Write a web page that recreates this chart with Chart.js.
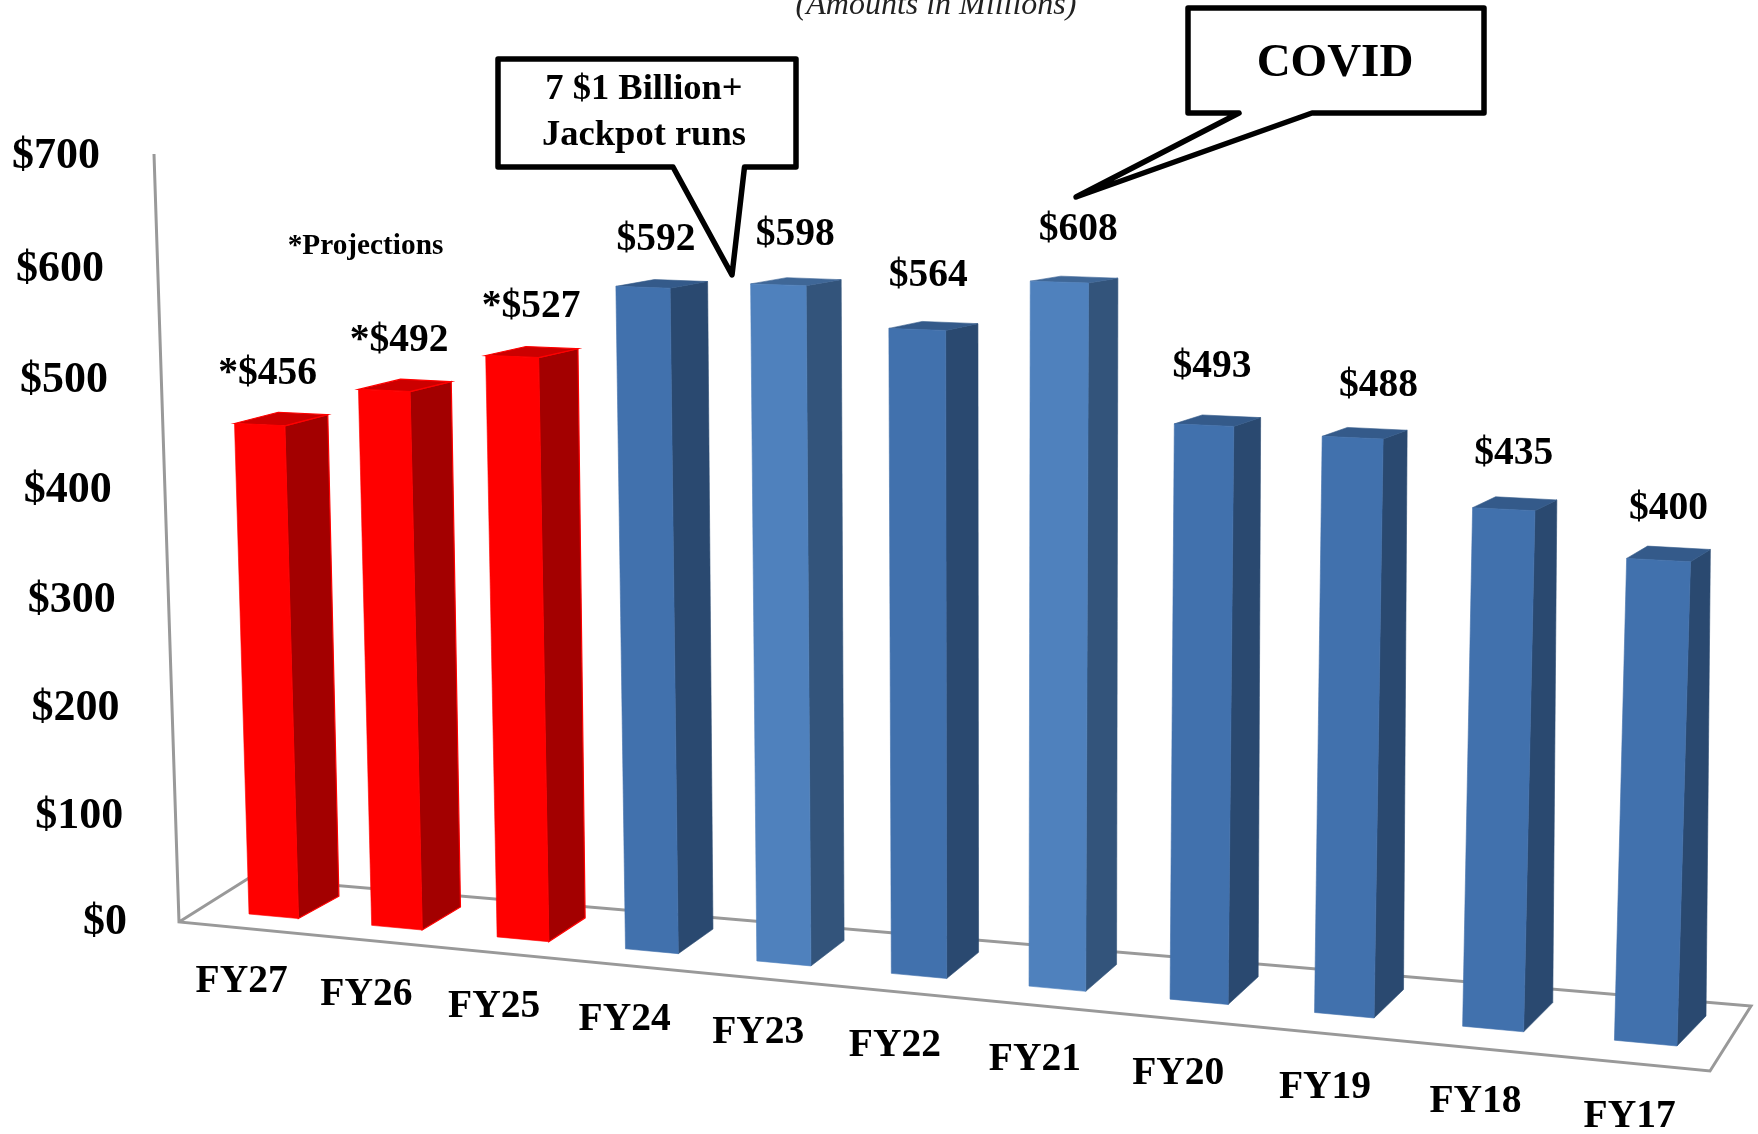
<!DOCTYPE html>
<html>
<head>
<meta charset="utf-8">
<title>Chart</title>
<script src="https://cdn.jsdelivr.net/npm/chart.js@4"></script>
<style>
    html, body { margin: 0; padding: 0; background: #fff; overflow: hidden; }
    canvas { display: block; }
</style>
</head>
<body>
<canvas id="salesChart" width="1758" height="1134"></canvas>
<script>
const categories = ['FY27', 'FY26', 'FY25', 'FY24', 'FY23', 'FY22', 'FY21', 'FY20', 'FY19', 'FY18', 'FY17'];
const values = [456, 492, 527, 592, 598, 564, 608, 493, 488, 435, 400];
const valueLabels = ['*$456', '*$492', '*$527', '$592', '$598', '$564', '$608', '$493', '$488', '$435', '$400'];
const barColors = ['#FF0000', '#FF0000', '#FF0000', '#4171AD', '#4F81BD', '#4171AD', '#4F81BD', '#4171AD', '#4171AD', '#4171AD', '#4171AD'];
const tickValues = [0, 100, 200, 300, 400, 500, 600, 700];
const tickLabels = ['$0', '$100', '$200', '$300', '$400', '$500', '$600', '$700'];

// offset of each value label from the top of its bar
const labelNudgeX = [8, 15, 19, 13, 17, 11, 19, 8, 26, 10, 10];
const labelNudgeY = [-51, -50, -50, -47, -50, -54, -52, -58, -52, -55, -51];

const FONT = '"Liberation Serif", serif';

// where the corners of the flat plot end up in the picture
// order: bottom left, bottom right, top right, top left
const frontQuad = [[249, 914], [1677, 1046], [1701, 186], [226.5, 153]];
const axisQuad = [[127, 923], [1677, 1046], [1701, 186], [100, 157]];

// unit square to quad
function makeMap(q) {
    const [p0, p1, p2, p3] = q;
    const dx1 = p1[0] - p2[0], dx2 = p3[0] - p2[0], sx = p0[0] - p1[0] + p2[0] - p3[0];
    const dy1 = p1[1] - p2[1], dy2 = p3[1] - p2[1], sy = p0[1] - p1[1] + p2[1] - p3[1];
    const den = dx1 * dy2 - dx2 * dy1;
    const g = (sx * dy2 - dx2 * sy) / den;
    const h = (dx1 * sy - sx * dy1) / den;
    return function(u, v) {
        const w = g * u + h * v + 1;
        return [
            ((p1[0] - p0[0] + g * p1[0]) * u + (p3[0] - p0[0] + h * p3[0]) * v + p0[0]) / w,
            ((p1[1] - p0[1] + g * p1[1]) * u + (p3[1] - p0[1] + h * p3[1]) * v + p0[1]) / w
        ];
    };
}

// how far the back of a bar sits from its front, u along the floor, v up
function depthAt(u, v) {
    const dxBottom = 29 + 12.5 * (1 - u) * (1 - u);
    const dxTop = 45 - 16 * u - 16 * u * u;
    const dyBottom = -(22 + 8 * u);
    const dyTop = -5.5 + 6.5 * u;
    return [dxBottom + (dxTop - dxBottom) * v, dyBottom + (dyTop - dyBottom) * v];
}

function shade(hex, f) {
    const n = parseInt(hex.slice(1), 16);
    const r = Math.round((n >> 16 & 255) * f);
    const g = Math.round((n >> 8 & 255) * f);
    const b = Math.round((n & 255) * f);
    return 'rgb(' + r + ',' + g + ',' + b + ')';
}

function poly(ctx, pts, fill, stroke, lw) {
    ctx.beginPath();
    pts.forEach((p, i) => i ? ctx.lineTo(p[0], p[1]) : ctx.moveTo(p[0], p[1]));
    ctx.closePath();
    ctx.fillStyle = fill;
    ctx.fill();
    ctx.strokeStyle = stroke || fill;
    ctx.lineWidth = lw || 0.6;
    ctx.stroke();
}

function text(ctx, str, x, y, font, align, color) {
    ctx.font = font;
    ctx.textAlign = align || 'center';
    ctx.textBaseline = 'middle';
    ctx.fillStyle = color || '#000';
    ctx.fillText(str, x, y);
}

function callout(ctx, x0, y0, x1, y1, tail) {
    ctx.beginPath();
    ctx.moveTo(x0, y0);
    ctx.lineTo(x1, y0);
    ctx.lineTo(x1, y1);
    // tail runs right to left along the bottom edge
    ctx.lineTo(tail[0][0], y1);
    ctx.lineTo(tail[1][0], tail[1][1]);
    ctx.lineTo(tail[2][0], y1);
    ctx.lineTo(x0, y1);
    ctx.closePath();
    ctx.fillStyle = '#fff';
    ctx.fill();
    ctx.strokeStyle = '#000';
    ctx.lineWidth = 5.5;
    ctx.lineJoin = 'round';
    ctx.stroke();
    ctx.lineJoin = 'miter';
}

const perspectivePlugin = {
    id: 'perspective',
    beforeDatasetsDraw(chart) {
        const ctx = chart.ctx;
        const xs = chart.scales.x;
        const ys = chart.scales.y;
        const bars = chart.getDatasetMeta(0).data;
        const halfW = bars[0].width / 2;

        // flat plot rectangle used as source of the projection
        const left = bars[0].x - halfW;
        const right = bars[bars.length - 1].x + halfW;
        const bottom = ys.getPixelForValue(0);
        const top = ys.getPixelForValue(700);
        const toUnit = (px, py) => [(px - left) / (right - left), (bottom - py) / (bottom - top)];
        const front = makeMap(frontQuad);
        const axis = makeMap(axisQuad);
        const F = (px, py) => front(...toUnit(px, py));
        const B = (px, py) => {
            const [u, v] = toUnit(px, py);
            const f = front(u, v);
            const d = depthAt(u, v);
            return [f[0] + d[0], f[1] + d[1]];
        };

        // floor and axis frame
        ctx.save();
        ctx.strokeStyle = '#999999';
        ctx.lineWidth = 3;
        ctx.beginPath();
        ctx.moveTo(154, 154);
        ctx.lineTo(179, 922);
        ctx.lineTo(1710, 1071);
        ctx.lineTo(1751, 1006);
        ctx.lineTo(249, 878);
        ctx.lineTo(179, 922);
        ctx.stroke();
        ctx.restore();

        bars.forEach((bar, i) => {
            const x0 = bar.x - halfW, x1 = bar.x + halfW;
            const color = bar.options.backgroundColor;
            const isRed = color === '#FF0000';
            const edge = isRed ? '#FF0000' : null;
            const sideFactor = isRed ? 0.64 : 0.65;
            // side
            poly(ctx, [F(x1, bar.base), B(x1, bar.base), B(x1, bar.y), F(x1, bar.y)], shade(color, sideFactor), edge, isRed ? 1.2 : 0.6);
            // top
            poly(ctx, [F(x0, bar.y), F(x1, bar.y), B(x1, bar.y), B(x0, bar.y)], shade(color, 0.8), edge, isRed ? 1.2 : 0.6);
            // front
            poly(ctx, [F(x0, bar.base), F(x1, bar.base), F(x1, bar.y), F(x0, bar.y)], color);

            // value label
            const topMid = F(bar.x, bar.y);
            text(ctx, valueLabels[i], topMid[0] + labelNudgeX[i], topMid[1] + labelNudgeY[i], 'bold 39.5px ' + FONT);

            // category label
            const t = i / (bars.length - 1);
            const foot = F(xs.getPixelForValue(i), bottom);
            text(ctx, categories[i], foot[0] - 32 + 16 * t, foot[1] + 66 + 8 * t, 'bold 39.5px ' + FONT);
        });

        // value axis labels
        tickValues.forEach((v, i) => {
            const p = axis(0, (bottom - ys.getPixelForValue(v)) / (bottom - top));
            text(ctx, tickLabels[i], p[0], p[1], 'bold 44px ' + FONT, 'right');
        });

        text(ctx, '*Projections', 365.5, 246, 'bold 29.3px ' + FONT);
        text(ctx, '(Amounts in Millions)', 936, 6, 'italic 32px ' + FONT, 'center', '#222');

        callout(ctx, 498, 59, 796, 167, [[744.5], [732, 275], [673]]);
        text(ctx, '7 $1 Billion+', 644, 89.5, 'bold 36.5px ' + FONT);
        text(ctx, 'Jackpot runs', 644, 135.5, 'bold 36.5px ' + FONT);

        callout(ctx, 1188, 8, 1484, 113, [[1312], [1076, 197], [1239]]);
        text(ctx, 'COVID', 1335, 64, 'bold 47px ' + FONT);

        // bars are drawn above, skip the flat ones
        return false;
    }
};

const chart = new Chart(document.getElementById('salesChart').getContext('2d'), {
    type: 'bar',
    data: {
        labels: categories,
        datasets: [{
            label: 'Sales',
            data: values,
            backgroundColor: barColors,
            categoryPercentage: 1,
            barPercentage: 0.405
        }]
    },
    options: {
        responsive: false,
        animation: false,
        plugins: {
            legend: { display: false },
            tooltip: { enabled: false }
        },
        scales: {
            x: { display: false, offset: true },
            y: { display: false, min: 0, max: 700, ticks: { stepSize: 100 } }
        }
    },
    plugins: [perspectivePlugin]
});
</script>
</body>
</html>
